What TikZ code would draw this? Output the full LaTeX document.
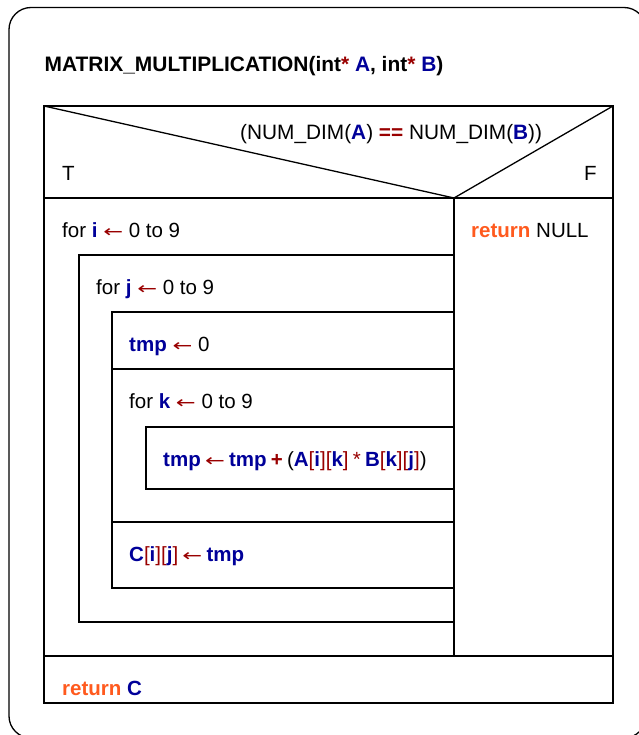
\documentclass[tikz,border=0pt]{standalone}
\usepackage{fontspec}
\setmainfont{Liberation Sans}
\newfontfamily\arrfont{DejaVu Sans}
\definecolor{vblue}{RGB}{0,0,153}
\definecolor{vred}{RGB}{153,0,0}
\definecolor{vorange}{RGB}{255,90,30}
\newcommand{\varb}[1]{\textbf{\textcolor{vblue}{#1}}}
\newcommand{\redb}[1]{\textbf{\textcolor{vred}{#1}}}
\newcommand{\redr}[1]{\textcolor{vred}{#1}}
\newcommand{\kwd}[1]{\textbf{\textcolor{vorange}{#1}}}
\newcommand{\myarr}{\scalebox{1.4}[1]{\arrfont\fontsize{17}{20}\selectfont\textcolor{vred}{←}}}
\newcommand{\tightsp}{\spaceskip=4.2bp plus 1bp\relax}
\tikzset{
  sline/.style={line width=1.3bp, draw=black},
  txt/.style={anchor=base west, inner sep=0pt, font=\fontsize{20.6}{24}\selectfont},
}
\begin{document}
\begin{tikzpicture}[x=1bp,y=-1bp]
\useasboundingbox (0,0) rectangle (639,735);
% outer frame
\draw[sline, rounded corners=22bp] (9,7.5) rectangle (646,738);
% structogram frame
\draw[sline] (44,106) rectangle (613,703);
\draw[sline] (44,106) -- (454,198) -- (613,106);
\draw[sline] (44,198) -- (613,198);
\draw[sline] (454,198) -- (454,656);
\draw[sline] (44,656) -- (613,656);
% loop j
\draw[sline] (454,255) -- (79,255) -- (79,622) -- (454,622);
% body of loop j
\draw[sline] (454,312) -- (112,312) -- (112,588) -- (454,588);
\draw[sline] (112,369) -- (454,369);
\draw[sline] (112,522) -- (454,522);
% body of loop k
\draw[sline] (454,427) -- (146,427) -- (146,489) -- (454,489);

% texts
\node[txt, font=\fontsize{21}{24}\selectfont] (title) at (44.5,71.5) {\bfseries MATRIX\_MULTIPLICATION(int\textcolor{vred}{*} \textcolor{vblue}{A}, int\textcolor{vred}{*} \textcolor{vblue}{B})};
\node[txt, font=\fontsize{20.9}{24}\selectfont] (cond) at (240,140) {(NUM\_DIM(\varb{A}) \redb{==} NUM\_DIM(\varb{B}))};
\node[txt] (tlab) at (62,180) {T};
\node[txt] (flab) at (584,180) {F};
\node[txt] (fori) at (62,237) {for \varb{i} \myarr{} 0 to 9};
\node[txt] (retnull) at (471,237) {\kwd{return} NULL};
\node[txt] (forj) at (96,294) {for \varb{j} \myarr{} 0 to 9};
\node[txt] (tmpinit) at (129,351) {\varb{tmp} \myarr{} 0};
\node[txt] (fork) at (129,408) {for \varb{k} \myarr{} 0 to 9};
\node[txt] (accum) at (163,466.5) {\tightsp\varb{tmp} \myarr{} \varb{tmp} \redb{+} (\varb{A}\redr{[}\varb{i}\redr{][}\varb{k}\redr{]} \redr{*} \varb{B}\redr{[}\varb{k}\redr{][}\varb{j}\redr{]})};
\node[txt] (store) at (129,561) {\tightsp\varb{C}\redr{[}\varb{i}\redr{][}\varb{j}\redr{]} \myarr{} \varb{tmp}};
\node[txt] (retc) at (62,695.5) {\kwd{return} \varb{C}};
\end{tikzpicture}
\end{document}
